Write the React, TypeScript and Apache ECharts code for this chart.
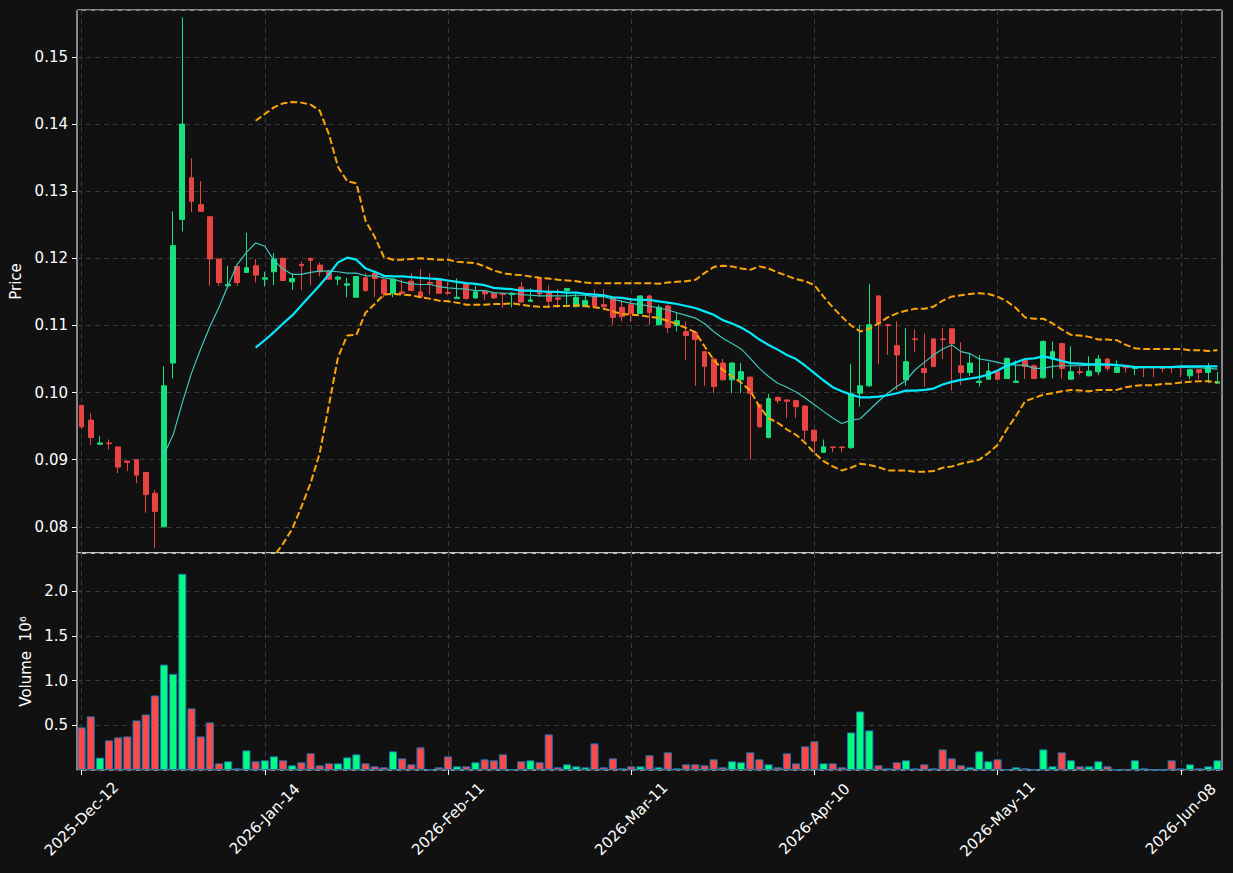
import React, { useEffect, useRef } from "react";
import * as echarts from "echarts";

// ---------- categories (trading days) ----------
const START_DATE = "2025-12-12";
const N_BARS = 125;
const HOLIDAYS = ["2025-12-25", "2025-12-26", "2026-01-01", "2026-04-03", "2026-04-06", "2026-05-04"];
const MONTHS = ["Jan", "Feb", "Mar", "Apr", "May", "Jun", "Jul", "Aug", "Sep", "Oct", "Nov", "Dec"];

function tradingDays(start: string, count: number): string[] {
  const out: string[] = [];
  const d = new Date(start + "T00:00:00Z");
  const hol = new Set(HOLIDAYS);
  while (out.length < count) {
    const iso = d.toISOString().slice(0, 10);
    const wd = d.getUTCDay();
    if (wd !== 0 && wd !== 6 && !hol.has(iso)) {
      out.push(`${d.getUTCFullYear()}-${MONTHS[d.getUTCMonth()]}-${String(d.getUTCDate()).padStart(2, "0")}`);
    }
    d.setUTCDate(d.getUTCDate() + 1);
  }
  return out;
}
const dates = tradingDays(START_DATE, N_BARS);

// ---------- OHLC ----------
const opens = [
  0.0981, 0.0959, 0.0923, 0.0925, 0.0919, 0.0898, 0.0900, 0.0881, 0.0850, 0.0800,
  0.1044, 0.1258, 0.1320, 0.1280, 0.1262, 0.1199, 0.1159, 0.1188, 0.1179, 0.1189,
  0.1169, 0.1180, 0.1200, 0.1165, 0.1191, 0.1200, 0.1190, 0.1181, 0.1169, 0.1160,
  0.1142, 0.1171, 0.1178, 0.1168, 0.1148, 0.1150, 0.1166, 0.1150, 0.1164, 0.1169,
  0.1149, 0.1140, 0.1163, 0.1141, 0.1151, 0.1148, 0.1148, 0.1146, 0.1157, 0.1136,
  0.1170, 0.1148, 0.1141, 0.1152, 0.1128, 0.1128, 0.1143, 0.1131, 0.1141, 0.1127,
  0.1131, 0.1118, 0.1144, 0.1101, 0.1129, 0.1100, 0.1091, 0.1090, 0.1061, 0.1050,
  0.1044, 0.1019, 0.1019, 0.1023, 0.0982, 0.0933, 0.0993, 0.0989, 0.0988, 0.0980,
  0.0944, 0.0911, 0.0919, 0.0919, 0.0918, 0.0999, 0.1010, 0.1144, 0.1101, 0.1070,
  0.1019, 0.1080, 0.1036, 0.1080, 0.1080, 0.1095, 0.1040, 0.1030, 0.1015, 0.1020,
  0.1031, 0.1021, 0.1015, 0.1048, 0.1040, 0.1022, 0.1050, 0.1073, 0.1020, 0.1031,
  0.1025, 0.1031, 0.1050, 0.1030, 0.1038, 0.1036, 0.1038, 0.1038, 0.1038, 0.1038,
  0.1038, 0.1025, 0.1034, 0.1030, 0.1014,
];
const closes = [
  0.0949, 0.0933, 0.0925, 0.0924, 0.0889, 0.0896, 0.0877, 0.0848, 0.0823, 0.1010,
  0.1219, 0.1400, 0.1285, 0.1270, 0.1199, 0.1164, 0.1161, 0.1164, 0.1186, 0.1175,
  0.1171, 0.1199, 0.1167, 0.1170, 0.1189, 0.1197, 0.1180, 0.1169, 0.1172, 0.1162,
  0.1173, 0.1152, 0.1170, 0.1147, 0.1169, 0.1148, 0.1152, 0.1142, 0.1162, 0.1148,
  0.1148, 0.1142, 0.1140, 0.1150, 0.1147, 0.1141, 0.1146, 0.1148, 0.1135, 0.1138,
  0.1147, 0.1136, 0.1139, 0.1155, 0.1142, 0.1137, 0.1129, 0.1128, 0.1112, 0.1113,
  0.1118, 0.1144, 0.1119, 0.1127, 0.1097, 0.1107, 0.1085, 0.1079, 0.1039, 0.1009,
  0.1019, 0.1044, 0.1031, 0.0999, 0.0949, 0.0991, 0.0988, 0.0987, 0.0979, 0.0944,
  0.0928, 0.0919, 0.0918, 0.0918, 0.0998, 0.1010, 0.1101, 0.1102, 0.1100, 0.1056,
  0.1046, 0.1079, 0.1030, 0.1039, 0.1079, 0.1073, 0.1030, 0.1044, 0.1017, 0.1032,
  0.1020, 0.1051, 0.1017, 0.1039, 0.1021, 0.1076, 0.1061, 0.1036, 0.1031, 0.1030,
  0.1032, 0.1050, 0.1036, 0.1038, 0.1037, 0.1037, 0.1037, 0.1037, 0.1036, 0.1037,
  0.1037, 0.1034, 0.1030, 0.1038, 0.1016,
];
const lows = [
  0.0946, 0.0922, 0.0923, 0.0915, 0.0880, 0.0883, 0.0865, 0.0821, 0.0768, 0.0800,
  0.1021, 0.1240, 0.1269, 0.1269, 0.1159, 0.1159, 0.1159, 0.1159, 0.1179, 0.1164,
  0.1158, 0.1160, 0.1166, 0.1153, 0.1153, 0.1160, 0.1173, 0.1168, 0.1160, 0.1142,
  0.1142, 0.1150, 0.1142, 0.1142, 0.1142, 0.1147, 0.1151, 0.1141, 0.1146, 0.1147,
  0.1145, 0.1140, 0.1139, 0.1140, 0.1138, 0.1140, 0.1126, 0.1127, 0.1134, 0.1135,
  0.1142, 0.1126, 0.1126, 0.1131, 0.1127, 0.1127, 0.1128, 0.1127, 0.1101, 0.1106,
  0.1105, 0.1117, 0.1101, 0.1100, 0.1089, 0.1091, 0.1049, 0.1010, 0.1010, 0.0999,
  0.1018, 0.0999, 0.0999, 0.0900, 0.0948, 0.0932, 0.0984, 0.0962, 0.0962, 0.0930,
  0.0910, 0.0910, 0.0911, 0.0911, 0.0916, 0.0979, 0.1009, 0.1042, 0.1056, 0.1004,
  0.1010, 0.1060, 0.1009, 0.1038, 0.1050, 0.1003, 0.1011, 0.1025, 0.1009, 0.1019,
  0.1019, 0.1020, 0.1015, 0.1020, 0.1020, 0.1021, 0.1021, 0.1021, 0.1019, 0.1026,
  0.1024, 0.1026, 0.1032, 0.1029, 0.1030, 0.1026, 0.1023, 0.1023, 0.1030, 0.1029,
  0.1023, 0.1020, 0.1020, 0.1014, 0.1014,
];
const highs = [
  0.0981, 0.0969, 0.0935, 0.0930, 0.0919, 0.0898, 0.0900, 0.0881, 0.0855, 0.1039,
  0.1270, 0.1559, 0.1349, 0.1315, 0.1262, 0.1199, 0.1189, 0.1188, 0.1238, 0.1199,
  0.1180, 0.1208, 0.1201, 0.1178, 0.1195, 0.1201, 0.1194, 0.1183, 0.1174, 0.1171,
  0.1173, 0.1178, 0.1180, 0.1170, 0.1170, 0.1169, 0.1178, 0.1184, 0.1178, 0.1170,
  0.1165, 0.1170, 0.1164, 0.1159, 0.1152, 0.1149, 0.1148, 0.1149, 0.1165, 0.1155,
  0.1172, 0.1160, 0.1154, 0.1156, 0.1148, 0.1145, 0.1154, 0.1154, 0.1142, 0.1138,
  0.1141, 0.1145, 0.1146, 0.1131, 0.1131, 0.1119, 0.1106, 0.1091, 0.1062, 0.1052,
  0.1050, 0.1045, 0.1044, 0.1024, 0.0983, 0.0998, 0.0994, 0.0990, 0.0989, 0.0981,
  0.0945, 0.0930, 0.0919, 0.0919, 0.1043, 0.1101, 0.1162, 0.1145, 0.1102, 0.1106,
  0.1096, 0.1094, 0.1088, 0.1081, 0.1096, 0.1096, 0.1075, 0.1058, 0.1056, 0.1045,
  0.1032, 0.1052, 0.1048, 0.1049, 0.1042, 0.1078, 0.1076, 0.1074, 0.1069, 0.1038,
  0.1054, 0.1056, 0.1051, 0.1048, 0.1039, 0.1038, 0.1038, 0.1038, 0.1039, 0.1038,
  0.1038, 0.1035, 0.1035, 0.1044, 0.1031,
];

// ---------- volume (millions) ----------
const volumes = [
  0.476, 0.599, 0.138, 0.331, 0.364, 0.375, 0.554, 0.621, 0.833, 1.178,
  1.074, 2.193, 0.688, 0.375, 0.532, 0.074, 0.097, 0.019, 0.219, 0.097,
  0.108, 0.152, 0.108, 0.052, 0.086, 0.186, 0.052, 0.074, 0.074, 0.141,
  0.175, 0.074, 0.041, 0.030, 0.208, 0.130, 0.063, 0.253, 0.008, 0.030,
  0.152, 0.041, 0.041, 0.086, 0.119, 0.108, 0.175, 0.007, 0.097, 0.108,
  0.086, 0.398, 0.030, 0.063, 0.041, 0.030, 0.297, 0.030, 0.130, 0.019,
  0.041, 0.041, 0.164, 0.030, 0.197, 0.019, 0.063, 0.063, 0.052, 0.119,
  0.030, 0.097, 0.086, 0.197, 0.119, 0.063, 0.030, 0.186, 0.074, 0.264,
  0.320, 0.074, 0.074, 0.030, 0.420, 0.654, 0.442, 0.052, 0.019, 0.086,
  0.108, 0.019, 0.063, 0.019, 0.230, 0.130, 0.052, 0.030, 0.208, 0.097,
  0.119, 0.007, 0.030, 0.019, 0.007, 0.230, 0.041, 0.197, 0.108, 0.041,
  0.041, 0.097, 0.041, 0.007, 0.007, 0.108, 0.019, 0.003, 0.003, 0.108,
  0.019, 0.063, 0.019, 0.041, 0.108,
];

// ---------- indicator lines ----------
const ma10 = [
  null, null, null, null, null, null, null, null, null, 0.0908,
  0.0937, 0.0985, 0.1029, 0.1065, 0.1098, 0.1127, 0.1160, 0.1191, 0.1209, 0.1223,
  0.1218, 0.1197, 0.1184, 0.1176, 0.1176, 0.1179, 0.1181, 0.1181, 0.1180, 0.1178,
  0.1178, 0.1174, 0.1174, 0.1171, 0.1169, 0.1165, 0.1162, 0.1161, 0.1161, 0.1158,
  0.1156, 0.1155, 0.1154, 0.1152, 0.1152, 0.1149, 0.1148, 0.1148, 0.1146, 0.1145,
  0.1144, 0.1144, 0.1144, 0.1144, 0.1145, 0.1145, 0.1143, 0.1143, 0.1139, 0.1136,
  0.1133, 0.1131, 0.1129, 0.1126, 0.1123, 0.1119, 0.1115, 0.1111, 0.1103, 0.1091,
  0.1081, 0.1073, 0.1065, 0.1051, 0.1036, 0.1024, 0.1014, 0.1008, 0.1001, 0.0992,
  0.0982, 0.0972, 0.0962, 0.0954, 0.0959, 0.0961, 0.0974, 0.0987, 0.0999, 0.1009,
  0.1018, 0.1034, 0.1045, 0.1056, 0.1065, 0.1071, 0.1061, 0.1058, 0.1050, 0.1048,
  0.1045, 0.1042, 0.1041, 0.1041, 0.1036, 0.1036, 0.1039, 0.1040, 0.1040, 0.1040,
  0.1041, 0.1041, 0.1041, 0.1041, 0.1039, 0.1038, 0.1038, 0.1038, 0.1038, 0.1038,
  0.1038, 0.1037, 0.1037, 0.1036, 0.1035,
];
const ma20 = [
  null, null, null, null, null, null, null, null, null, null,
  null, null, null, null, null, null, null, null, null, 0.1067,
  0.1078, 0.1090, 0.1103, 0.1115, 0.1130, 0.1145, 0.1160, 0.1176, 0.1194, 0.1201,
  0.1198, 0.1185, 0.1180, 0.1174, 0.1173, 0.1173, 0.1172, 0.1171, 0.1170, 0.1169,
  0.1167, 0.1165, 0.1163, 0.1162, 0.1160, 0.1156, 0.1155, 0.1154, 0.1152, 0.1152,
  0.1151, 0.1150, 0.1150, 0.1149, 0.1149, 0.1147, 0.1146, 0.1145, 0.1142, 0.1141,
  0.1139, 0.1138, 0.1138, 0.1136, 0.1134, 0.1132, 0.1129, 0.1126, 0.1121, 0.1116,
  0.1108, 0.1103, 0.1097, 0.1089, 0.1079, 0.1071, 0.1064, 0.1056, 0.1050, 0.1040,
  0.1029, 0.1018, 0.1008, 0.1002, 0.0997, 0.0993, 0.0993, 0.0994, 0.0996, 0.0999,
  0.1003, 0.1003, 0.1004, 0.1006, 0.1012, 0.1016, 0.1019, 0.1021, 0.1023, 0.1027,
  0.1033, 0.1040, 0.1045, 0.1050, 0.1051, 0.1054, 0.1051, 0.1047, 0.1044, 0.1043,
  0.1042, 0.1042, 0.1042, 0.1041, 0.1040, 0.1038, 0.1038, 0.1038, 0.1038, 0.1038,
  0.1039, 0.1039, 0.1039, 0.1039, 0.1039,
];
const bbUpper = [
  null, null, null, null, null, null, null, null, null, null,
  null, null, null, null, null, null, null, null, null, 0.1405,
  0.1415, 0.1425, 0.1431, 0.1433, 0.1432, 0.1429, 0.1420, 0.1385, 0.1336, 0.1315,
  0.1312, 0.1256, 0.1232, 0.1202, 0.1198, 0.1198, 0.1199, 0.1200, 0.1199, 0.1198,
  0.1198, 0.1195, 0.1194, 0.1193, 0.1188, 0.1182, 0.1178, 0.1176, 0.1175, 0.1173,
  0.1171, 0.1170, 0.1168, 0.1167, 0.1166, 0.1164, 0.1163, 0.1163, 0.1163, 0.1163,
  0.1163, 0.1163, 0.1163, 0.1162, 0.1164, 0.1165, 0.1166, 0.1168, 0.1178, 0.1187,
  0.1189, 0.1188, 0.1185, 0.1183, 0.1188, 0.1185, 0.1179, 0.1174, 0.1169, 0.1166,
  0.1160, 0.1143, 0.1127, 0.1113, 0.1100, 0.1091, 0.1095, 0.1103, 0.1112, 0.1118,
  0.1122, 0.1125, 0.1125, 0.1128, 0.1137, 0.1143, 0.1145, 0.1147, 0.1148, 0.1147,
  0.1143, 0.1136, 0.1126, 0.1112, 0.1110, 0.1110, 0.1103, 0.1094, 0.1086, 0.1085,
  0.1083, 0.1079, 0.1079, 0.1078, 0.1071, 0.1066, 0.1065, 0.1065, 0.1065, 0.1065,
  0.1065, 0.1063, 0.1063, 0.1062, 0.1063,
];
const bbLower = [
  null, null, null, null, null, null, null, null, null, null,
  null, null, null, null, null, null, null, null, null, 0.0729,
  0.0741, 0.0756, 0.0775, 0.0797, 0.0830, 0.0865, 0.0910, 0.0981, 0.1053, 0.1085,
  0.1086, 0.1119, 0.1132, 0.1146, 0.1147, 0.1146, 0.1145, 0.1142, 0.1140, 0.1137,
  0.1136, 0.1134, 0.1131, 0.1131, 0.1131, 0.1132, 0.1132, 0.1133, 0.1131, 0.1129,
  0.1128, 0.1128, 0.1129, 0.1129, 0.1130, 0.1129, 0.1127, 0.1125, 0.1121, 0.1117,
  0.1116, 0.1115, 0.1113, 0.1111, 0.1107, 0.1102, 0.1096, 0.1090, 0.1069, 0.1049,
  0.1034, 0.1024, 0.1015, 0.1003, 0.0979, 0.0962, 0.0955, 0.0945, 0.0937, 0.0925,
  0.0910, 0.0898, 0.0890, 0.0884, 0.0888, 0.0894, 0.0892, 0.0889, 0.0884, 0.0884,
  0.0884, 0.0882, 0.0882, 0.0883, 0.0888, 0.0890, 0.0894, 0.0897, 0.0900, 0.0910,
  0.0922, 0.0945, 0.0965, 0.0987, 0.0992, 0.0997, 0.0999, 0.1002, 0.1004, 0.1003,
  0.1002, 0.1004, 0.1004, 0.1004, 0.1008, 0.1010, 0.1011, 0.1011, 0.1013, 0.1013,
  0.1015, 0.1016, 0.1017, 0.1017, 0.1015,
];

// ---------- axis settings ----------
const PRICE_MIN = 0.0761;
const PRICE_MAX = 0.157;
const VOL_MAX = 2.425;
const LABEL_EVERY = 20;

const BG = "#111111";
const GRID_LINE = "#3a3a3a";
const CANDLE_UP = "#19e07f";
const CANDLE_DOWN = "#e94444";
const VOL_UP = "#00ff80";
const VOL_DOWN = "#ff4848";
const FONT = "DejaVu Sans";

export default function App() {
  const ref = useRef<HTMLDivElement>(null);

  useEffect(() => {
    if (!ref.current) return;
    const chart = echarts.init(ref.current, undefined, { renderer: "svg" });

    const axisText = { color: "#ffffff", fontSize: 15, fontFamily: FONT };
    const splitLine = {
      show: true,
      lineStyle: { color: GRID_LINE, type: [5, 4] as any, width: 1 },
    };
    const xSplit = { ...splitLine, interval: LABEL_EVERY - 1, alignWithLabel: true };

    const option: any = {
      animation: false,
      backgroundColor: BG,
      grid: [
        { left: 77, top: 10, width: 1145, height: 543, show: true, borderColor: "#ffffff", borderWidth: 1, containLabel: false },
        { left: 77, top: 553, width: 1145, height: 217, show: true, borderColor: "#ffffff", borderWidth: 1, containLabel: false },
      ],
      xAxis: [
        {
          type: "category",
          gridIndex: 0,
          data: dates,
          boundaryGap: true,
          axisLine: { show: false },
          axisTick: { show: false },
          axisLabel: { show: false },
          splitLine: xSplit,
        },
        {
          type: "category",
          gridIndex: 1,
          data: dates,
          boundaryGap: true,
          axisLine: { show: false },
          axisTick: {
            show: true,
            interval: LABEL_EVERY - 1,
            alignWithLabel: true,
            length: 5,
            lineStyle: { color: "#ffffff", width: 1 },
          },
          axisLabel: {
            ...axisText,
            interval: LABEL_EVERY - 1,
            rotate: 45,
            align: "center",
            verticalAlign: "middle",
            margin: 49,
          },
          splitLine: xSplit,
        },
      ],
      yAxis: [
        {
          type: "value",
          gridIndex: 0,
          min: PRICE_MIN,
          max: PRICE_MAX,
          splitNumber: 8,
          name: "Price",
          nameLocation: "middle",
          nameGap: 49,
          nameTextStyle: { ...axisText },
          axisLine: { show: false },
          axisTick: { show: true, length: 5, lineStyle: { color: "#ffffff" } },
          axisLabel: {
            ...axisText,
            margin: 9,
            showMinLabel: false,
            showMaxLabel: false,
            formatter: (v: number) => v.toFixed(2),
          },
          splitLine,
        },
        {
          type: "value",
          gridIndex: 1,
          min: 0,
          max: VOL_MAX,
          interval: 0.5,
          name: "Volume  10⁶",
          nameLocation: "middle",
          nameGap: 44,
          nameTextStyle: { ...axisText },
          axisLine: { show: false },
          axisTick: { show: true, length: 5, lineStyle: { color: "#ffffff" } },
          axisLabel: {
            ...axisText,
            margin: 9,
            showMinLabel: false,
            showMaxLabel: false,
            formatter: (v: number) => v.toFixed(1),
          },
          splitLine,
        },
      ],
      series: [
        {
          name: "OHLC",
          type: "candlestick",
          xAxisIndex: 0,
          yAxisIndex: 0,
          barWidth: "58%",
          data: opens.map((o, i) => [o, closes[i], lows[i], highs[i]]),
          itemStyle: {
            color: CANDLE_UP,
            color0: CANDLE_DOWN,
            borderColor: CANDLE_UP,
            borderColor0: CANDLE_DOWN,
            borderWidth: 1,
          },
        },
        {
          name: "MA10",
          type: "line",
          xAxisIndex: 0,
          yAxisIndex: 0,
          data: ma10,
          symbol: "none",
          lineStyle: { color: "#3cc8b9", width: 1.2 },
        },
        {
          name: "MA20",
          type: "line",
          xAxisIndex: 0,
          yAxisIndex: 0,
          data: ma20,
          symbol: "none",
          lineStyle: { color: "#00eaff", width: 2.2 },
        },
        {
          name: "BB Upper",
          type: "line",
          xAxisIndex: 0,
          yAxisIndex: 0,
          data: bbUpper,
          symbol: "none",
          lineStyle: { color: "#ffa500", width: 2, type: [7, 3] },
        },
        {
          name: "BB Lower",
          type: "line",
          xAxisIndex: 0,
          yAxisIndex: 0,
          data: bbLower,
          symbol: "none",
          lineStyle: { color: "#ffa500", width: 2, type: [7, 3] },
        },
        {
          name: "Volume",
          type: "bar",
          xAxisIndex: 1,
          yAxisIndex: 1,
          barWidth: "88%",
          data: volumes.map((v, i) => ({
            value: v,
            itemStyle: { color: closes[i] >= opens[i] ? VOL_UP : VOL_DOWN },
          })),
          itemStyle: { borderColor: "#1f77b4", borderWidth: 1 },
        },
      ],
    };

    chart.setOption(option);
    return () => chart.dispose();
  }, []);

  return (
    <div
      ref={ref}
      style={{ position: "fixed", left: 0, top: 0, width: 1233, height: 873, background: BG }}
    />
  );
}
